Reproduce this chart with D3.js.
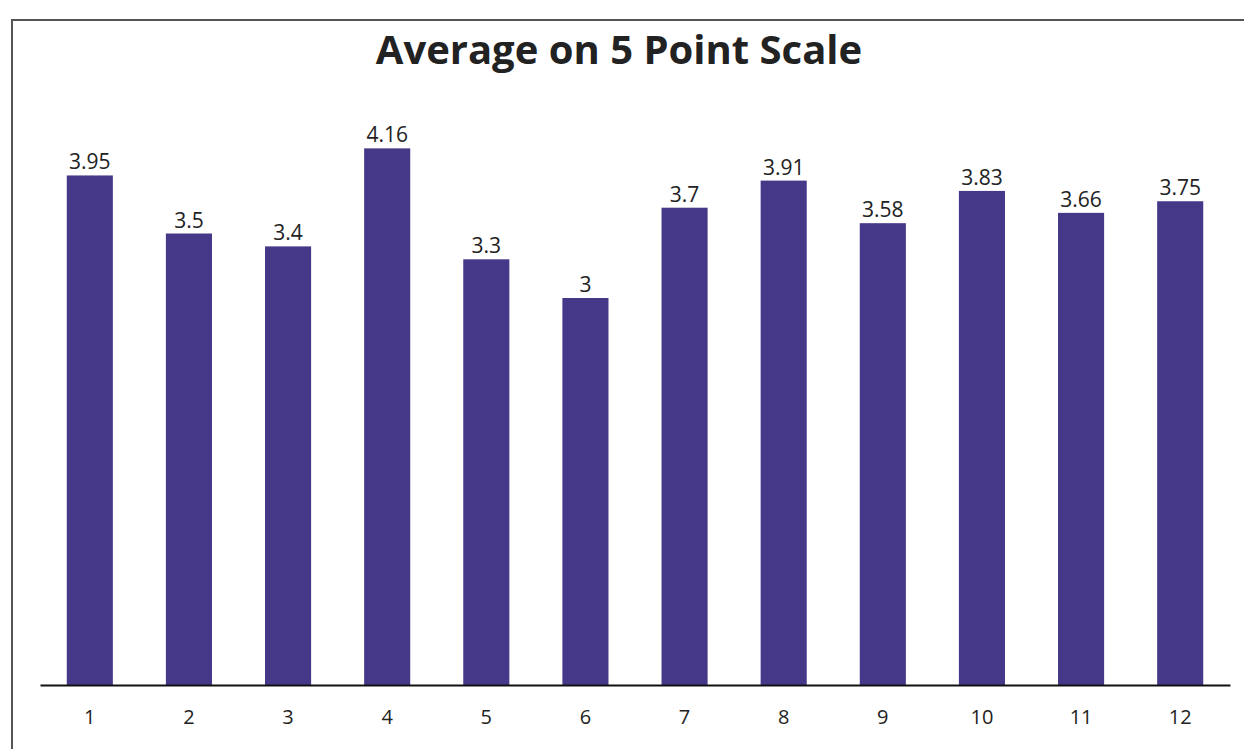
<!DOCTYPE html>
<html>
<head>
<meta charset="utf-8">
<script src="https://cdn.jsdelivr.net/npm/d3@7"></script>
<style>
  html, body { margin: 0; padding: 0; background: #fff; }
  svg { display: block; }
</style>
</head>
<body>
<script>
const categories = ["1","2","3","4","5","6","7","8","9","10","11","12"];
const values = [3.95, 3.5, 3.4, 4.16, 3.3, 3, 3.7, 3.91, 3.58, 3.83, 3.66, 3.75];
const valueLabels = ["3.95","3.5","3.4","4.16","3.3","3","3.7","3.91","3.58","3.83","3.66","3.75"];
const title = "Average on 5 Point Scale";

const W = 1244, H = 749;
const svg = d3.select("body").append("svg").attr("width", W).attr("height", H);

// frame (scanned page border: top and left visible)
svg.append("line").attr("x1", 11).attr("x2", 1244).attr("y1", 20).attr("y2", 20)
  .attr("stroke", "#555").attr("stroke-width", 2);
svg.append("line").attr("x1", 12).attr("x2", 12).attr("y1", 20).attr("y2", 749)
  .attr("stroke", "#555").attr("stroke-width", 2);

const baseY = 685;
const x = d3.scaleBand().domain(categories).range([40, 1230]).paddingInner(0.535).paddingOuter(0.27);
const y = d3.scaleLinear().domain([0, 4.5]).range([baseY, baseY - 4.5 * 129]);

svg.append("g").selectAll("rect").data(values).join("rect")
  .attr("x", (d, i) => x(categories[i]))
  .attr("y", d => y(d))
  .attr("width", x.bandwidth())
  .attr("height", d => baseY - y(d))
  .attr("fill", "#463888");

svg.append("g").selectAll("text").data(values).join("text")
  .attr("x", (d, i) => x(categories[i]) + x.bandwidth() / 2)
  .attr("y", d => y(d) - 6)
  .attr("text-anchor", "middle")
  .attr("font-family", "Open Sans, sans-serif")
  .attr("font-size", 21)
  .attr("fill", "#222")
  .text((d, i) => valueLabels[i]);

const xAxis = svg.append("g").attr("transform", `translate(0,${baseY})`)
  .call(d3.axisBottom(x).tickSize(0).tickPadding(25));
xAxis.select(".domain").attr("stroke", "#111").attr("stroke-width", 2);
xAxis.selectAll("text")
  .attr("font-family", "Open Sans, sans-serif")
  .attr("font-size", 20)
  .attr("fill", "#222");

svg.append("text")
  .attr("x", 619).attr("y", 64)
  .attr("text-anchor", "middle")
  .attr("font-family", "Open Sans, sans-serif")
  .attr("font-weight", "bold")
  .attr("font-size", 40)
  .attr("fill", "#222")
  .text(title);
</script>
</body>
</html>
